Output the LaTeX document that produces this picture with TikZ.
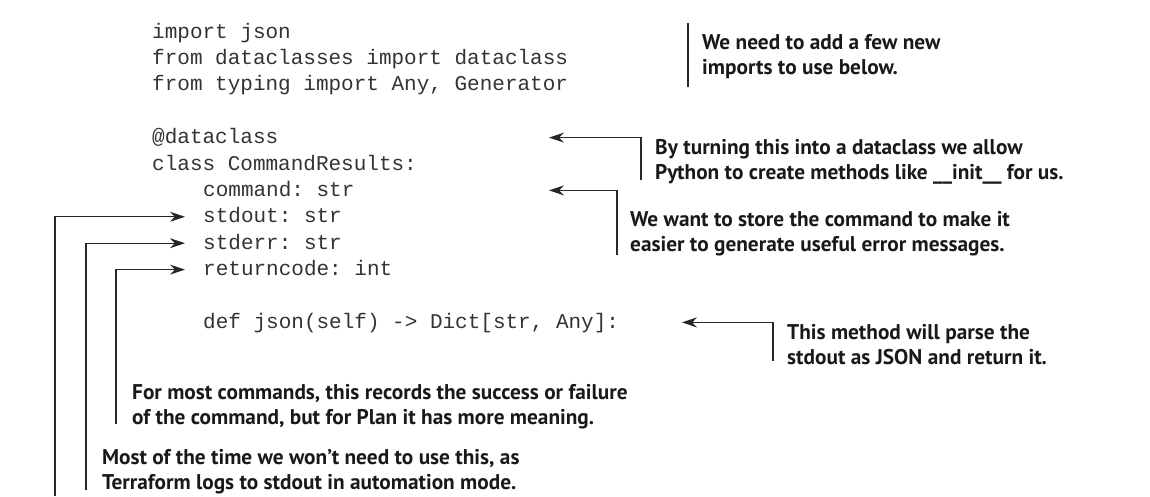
\documentclass[tikz,border=0pt]{standalone}
\usepackage{fontspec}
\usetikzlibrary{arrows.meta, positioning, calc}
\setmonofont{Liberation Mono}
\newfontfamily\notefont{PT Sans}

\begin{document}
\begin{tikzpicture}[x=1pt, y=-1pt,
  code/.style={anchor=west, inner sep=0pt, text height=15pt, text depth=3pt, font=\ttfamily\fontsize{21}{26}\selectfont, text=black!80},
  note/.style={anchor=north west, inner sep=0pt, align=left, font=\notefont\bfseries\fontsize{21.3}{25}\selectfont, text=black!90},
  arrow/.style={-{Stealth[length=15pt, width=10pt]}, line width=1.2pt, black!85},
  bar/.style={line width=1.2pt, black!85}
]
  \useasboundingbox (0,0) rectangle (1150,496);

  \node[code] (imp1) at (152,32) {import json};
  \node[code] (imp2) at (152,58.4) {from dataclasses import dataclass};
  \node[code] (imp3) at (152,84.8) {from typing import Any, Generator};
  \node[code] (deco) at (152,137.6) {@dataclass};
  \node[code] (cls) at (152,164) {class CommandResults:};
  \node[code] (cmd) at (203,190.4) {command: str};
  \node[code] (out) at (203,216.8) {stdout: str};
  \node[code] (err) at (203,243.2) {stderr: str};
  \node[code] (rc) at (203,269.6) {returncode: int};
  \node[code] (meth) at (203,322.4) {def json(self) -> Dict[str, Any]:};

  \node[note] (need) at (702,34) {We need to add a few new\\imports to use below.};
  \node[note] (dcnote) at (655,139) {By turning this into a dataclass we allow\\Python to create methods like \_\_init\_\_ for us.};
  \node[note] (cmdnote) at (630,211) {We want to store the command to make it\\easier to generate useful error messages.};
  \node[note] (methnote) at (787,324) {This method will parse the\\stdout as JSON and return it.};
  \node[note] (rcnote) at (132,384) {For most commands, this records the success or failure\\of the command, but for Plan it has more meaning.};
  \node[note] (errnote) at (102,449) {Most of the time we won’t need to use this, as\\Terraform logs to stdout in automation mode.};

  \coordinate (rtip) at (549,0);
  \coordinate (mtip) at (682,0);
  \coordinate (outend) at (55,496);

  \draw[bar] ([xshift=-14pt, yshift=11pt]need.north west) -- ([xshift=-14pt, yshift=-8pt]need.south west);
  \draw[arrow] ([xshift=-14pt, yshift=4pt]dcnote.south west) |- (deco.east -| rtip);
  \draw[arrow] ([xshift=-13pt, yshift=1pt]cmdnote.south west) |- (cmd.east -| rtip);
  \draw[arrow] ([xshift=-14pt, yshift=4pt]methnote.south west) |- (meth.east -| mtip);
  \draw[arrow] ([xshift=-16pt, yshift=5pt]rcnote.south west) |- ([xshift=-18pt]rc.west);
  \draw[arrow] ([xshift=-16pt, yshift=4pt]errnote.south west) |- ([xshift=-18pt]err.west);
  \draw[arrow] (outend) |- ([xshift=-18pt]out.west);
\end{tikzpicture}
\end{document}
